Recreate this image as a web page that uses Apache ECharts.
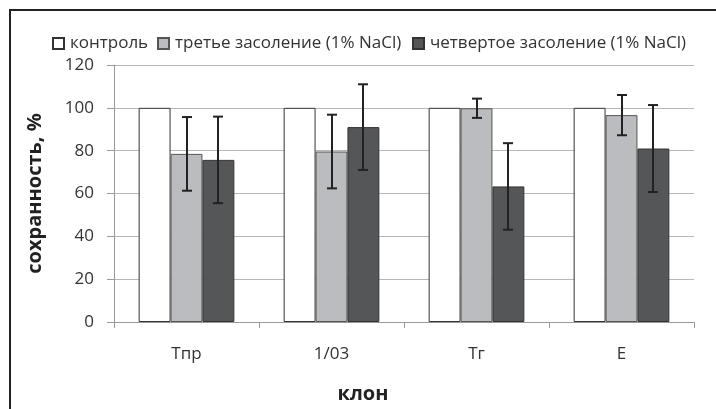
<!DOCTYPE html>
<html><head><meta charset="utf-8">
<script src="https://cdn.jsdelivr.net/npm/echarts@6/dist/echarts.min.js"></script>
<style>html,body{margin:0;padding:0;background:#fff;}#c{width:716px;height:409px;}</style>
</head><body><div id="c"></div>
<script>
var categories = ['Тпр', '1/03', 'Тг', 'Е'];
var seriesNames = ['контроль', 'третье засоление (1% NaCl)', 'четвертое засоление (1% NaCl)'];
var control = [100, 100, 100, 100];
var third = [78.5, 79.6, 99.8, 96.6];
var fourth = [75.7, 91.0, 63.3, 81.0];
var thirdErr = [17.2, 17.2, 4.5, 9.4];
var fourthErr = [20.2, 20.0, 20.2, 20.3];
var yTicks = [0, 20, 40, 60, 80, 100, 120];

var FONT = '"Open Sans", "Noto Sans", sans-serif';
var GAP = 0.34;

function errSeries(vals, errs, idx) {
  var data = vals.map(function (v, i) { return [i, v - errs[i], v + errs[i]]; });
  return {
    type: 'custom', silent: true, z: 10,
    data: data,
    encode: { x: 0, y: [1, 2] },
    renderItem: function (params, api) {
      var band = api.size([1, 0])[0];
      var bw = band * (1 - GAP) / 3;
      var lo = api.coord([api.value(0), api.value(1)]);
      var hi = api.coord([api.value(0), api.value(2)]);
      var x = Math.round(lo[0] + (idx - 1) * bw);
      var cap = 5;
      var st = { stroke: '#222', lineWidth: 2 };
      return { type: 'group', children: [
        { type: 'line', shape: { x1: x, y1: hi[1], x2: x, y2: lo[1] }, style: st },
        { type: 'line', shape: { x1: x - cap, y1: hi[1], x2: x + cap, y2: hi[1] }, style: st },
        { type: 'line', shape: { x1: x - cap, y1: lo[1], x2: x + cap, y2: lo[1] }, style: st }
      ]};
    }
  };
}

var legendLefts = [47, 152, 407];
var legends = seriesNames.map(function (n, i) {
  return {
    top: 30, left: legendLefts[i], data: [n],
    itemWidth: 11, itemHeight: 11, icon: 'rect',
    textStyle: { fontFamily: FONT, fontSize: 17, color: '#333', padding: [0, 0, 0, 1] }
  };
});

var chart = echarts.init(document.getElementById('c'));
chart.setOption({
  animation: false,
  backgroundColor: '#fff',
  graphic: [{ type: 'rect', shape: { x: 10, y: 10, width: 800, height: 500 }, style: { fill: 'none', stroke: '#222', lineWidth: 2 }, silent: true }],
  legend: legends,
  grid: { left: 114, right: 22, top: 65, bottom: 86 },
  xAxis: {
    type: 'category', data: categories,
    axisLine: { lineStyle: { color: '#999', width: 1 } },
    axisTick: { show: true, length: 6, lineStyle: { color: '#999' } },
    axisLabel: { fontFamily: FONT, fontSize: 17, color: '#333', margin: 24 },
    name: 'клон', nameLocation: 'middle', nameGap: 62,
    nameTextStyle: { fontFamily: FONT, fontSize: 20, fontWeight: 'bold', color: '#222', padding: [0, 82, 0, 0] }
  },
  yAxis: {
    type: 'value', min: 0, max: 120, interval: 20,
    axisLine: { show: true, lineStyle: { color: '#999' } },
    axisTick: { show: true, length: 7, lineStyle: { color: '#999' } },
    splitLine: { lineStyle: { color: '#b8b8b8' } },
    axisLabel: { fontFamily: FONT, fontSize: 17, color: '#333', margin: 20 },
    name: 'сохранность, %', nameLocation: 'middle', nameGap: 69, nameRotate: 90,
    nameTextStyle: { fontFamily: FONT, fontSize: 20, fontWeight: 'bold', color: '#222' }
  },
  series: [
    { name: seriesNames[0], type: 'bar', data: control, barGap: '0%', barCategoryGap: '34%',
      itemStyle: { color: '#ffffff', borderColor: '#333', borderWidth: 1 } },
    { name: seriesNames[1], type: 'bar', data: third,
      itemStyle: { color: '#bbbcbf', borderColor: '#555', borderWidth: 1 } },
    { name: seriesNames[2], type: 'bar', data: fourth,
      itemStyle: { color: '#555658', borderColor: '#333', borderWidth: 1 } },
    errSeries(third, thirdErr, 1),
    errSeries(fourth, fourthErr, 2)
  ]
});
</script></body></html>
